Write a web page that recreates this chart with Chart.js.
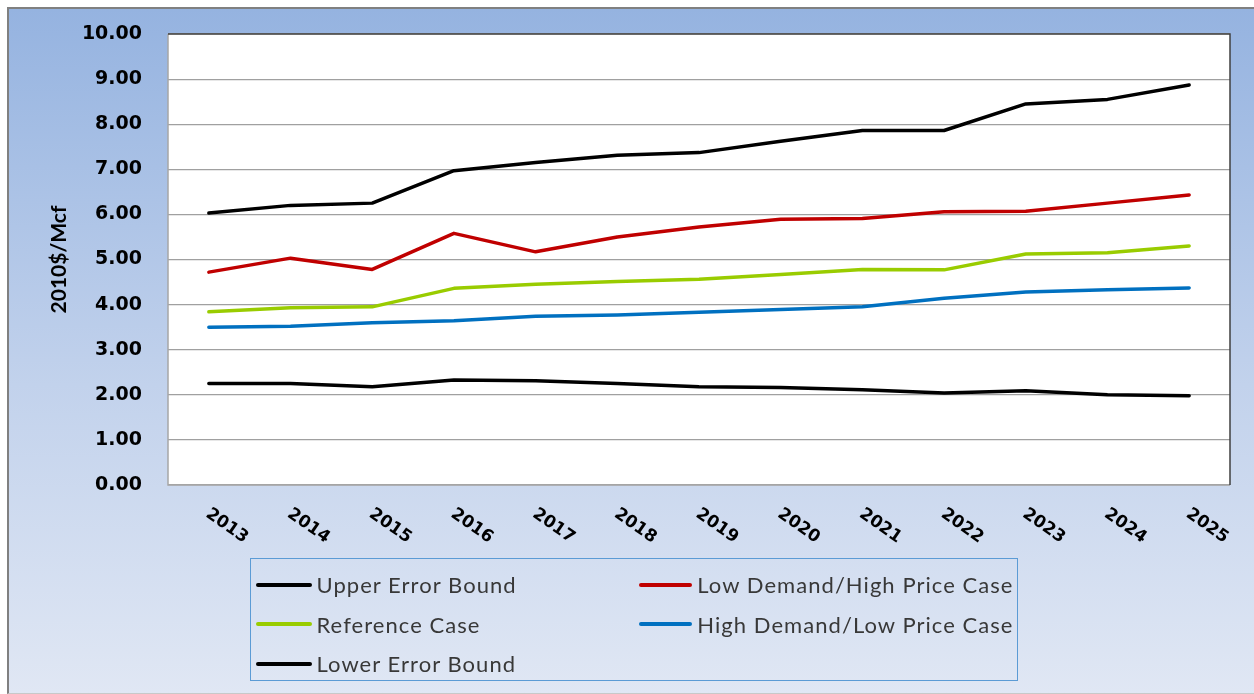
<!DOCTYPE html>
<html>
<head>
<meta charset="utf-8">
<script src="https://cdn.jsdelivr.net/npm/chart.js@4.4.1/dist/chart.umd.min.js"></script>
<style>
  html, body { margin: 0; padding: 0; background: #fff; overflow: hidden; }
  #frame {
    position: absolute; left: 7px; top: 7px; width: 1260px; height: 684px;
    border-left: 2px solid #808080; border-top: 2px solid #808080; border-bottom: 1px solid #c8c8c8;
    background: linear-gradient(to bottom, #95b3e0 0%, #c2d2ec 55%, #e0e7f4 100%);
  }
  #wrap { position: absolute; left: 0; top: 0; width: 1254px; height: 694px; }
  #legend {
    position: absolute; left: 250px; top: 558px; width: 768px; height: 123px;
    box-sizing: border-box; border: 1.5px solid #5b9bd5;
    padding: 6px 0 0 4.5px;
    display: grid; grid-template-columns: 383px 375px; grid-auto-rows: 39.5px;
    font-family: Lato, sans-serif; font-size: 22px; letter-spacing: 1.05px; color: #383838;
  }
  .item { display: flex; align-items: center; white-space: nowrap; }
  .swatch { width: 56px; height: 4px; border-radius: 2px; margin-right: 5px; }
</style>
</head>
<body>
<div id="frame"></div>
<div id="wrap"><canvas id="graph"></canvas></div>
<div id="legend"></div>
<script>
const years = ["2013", "2014", "2015", "2016", "2017", "2018", "2019", "2020", "2021", "2022", "2023", "2024", "2025"];

const upperBound = [6.03, 6.20, 6.25, 6.97, 7.15, 7.31, 7.37, 7.62, 7.86, 7.86, 8.45, 8.55, 8.87];
const lowDemand = [4.72, 5.03, 4.78, 5.58, 5.17, 5.50, 5.72, 5.89, 5.91, 6.06, 6.07, 6.25, 6.43];
const referenceCase = [3.84, 3.93, 3.95, 4.36, 4.45, 4.51, 4.56, 4.67, 4.78, 4.77, 5.12, 5.15, 5.30];
const highDemand = [3.50, 3.52, 3.60, 3.64, 3.74, 3.77, 3.83, 3.89, 3.95, 4.14, 4.28, 4.33, 4.37];
const lowerBound = [2.25, 2.25, 2.18, 2.33, 2.31, 2.25, 2.18, 2.16, 2.11, 2.04, 2.09, 2.00, 1.98];

const seriesNames = ["Upper Error Bound", "Low Demand/High Price Case", "Reference Case", "High Demand/Low Price Case", "Lower Error Bound"];
const seriesColors = ["#000000", "#c00000", "#99cc00", "#0070c0", "#000000"];
const seriesData = [upperBound, lowDemand, referenceCase, highDemand, lowerBound];

const plotArea = {
  id: "plotArea",
  beforeDraw(chart) {
    const { ctx, chartArea: a } = chart;
    ctx.save();
    ctx.fillStyle = "#ffffff";
    ctx.fillRect(a.left, a.top, a.right - a.left, a.bottom - a.top);
    ctx.restore();
  },
  afterDraw(chart) {
    const { ctx, chartArea: a } = chart;
    ctx.save();
    ctx.lineWidth = 1.5;
    ctx.strokeStyle = "#a6a6a6";
    ctx.beginPath();
    ctx.moveTo(a.left, a.top);
    ctx.lineTo(a.left, a.bottom);
    ctx.lineTo(a.right, a.bottom);
    ctx.stroke();
    ctx.strokeStyle = "#404040";
    ctx.beginPath();
    ctx.moveTo(a.left, a.top);
    ctx.lineTo(a.right, a.top);
    ctx.lineTo(a.right, a.bottom);
    ctx.stroke();

    // slanted year labels
    const x = chart.scales.x;
    ctx.font = "bold 17px 'DejaVu Sans'";
    ctx.fillStyle = "#000";
    ctx.textAlign = "center";
    ctx.textBaseline = "middle";
    years.forEach((yr, i) => {
      const px = x.getPixelForValue(i);
      ctx.save();
      ctx.translate(px + 18, x.top + 41);
      ctx.rotate(35 * Math.PI / 180);
      ctx.fillText(yr, 0, 0);
      ctx.restore();
    });
    ctx.restore();
  }
};

const graph = document.getElementById("graph").getContext("2d");
const chart = new Chart(graph, {
  type: "line",
  data: {
    labels: years,
    datasets: seriesData.map((d, i) => ({
      label: seriesNames[i],
      data: d,
      borderColor: seriesColors[i],
      backgroundColor: seriesColors[i],
      borderWidth: 3.5,
      pointRadius: 0,
      tension: 0,
      borderCapStyle: "round",
      borderJoinStyle: "round",
      fill: false
    }))
  },
  options: {
    responsive: true,
    maintainAspectRatio: false,
    animation: false,
    layout: { padding: { top: 34, right: 24, left: 0, bottom: 0 } },
    plugins: {
      legend: { display: false },
      tooltip: { enabled: false }
    },
    scales: {
      x: {
        offset: true,
        grid: { display: false },
        border: { display: false },
        ticks: { display: false },
        afterFit: s => { s.height = 209; }
      },
      y: {
        min: 0,
        max: 10,
        ticks: {
          stepSize: 1,
          padding: 0,
          color: "#000",
          font: { family: "'DejaVu Sans'", size: 19, weight: "bold" },
          callback: v => v.toFixed(2)
        },
        grid: { color: "#a0a0a0", lineWidth: 1.2, drawTicks: true, tickLength: 26, tickColor: "rgba(0,0,0,0)" },
        border: { display: false },
        title: {
          display: true,
          text: "2010$/Mcf",
          color: "#000",
          font: { family: "Lato", size: 21, weight: "bold" },
          padding: { top: 47, bottom: 0 }
        },
        afterFit: s => { s.width = 168; }
      }
    }
  },
  plugins: [plotArea]
});

const legend = document.getElementById("legend");
chart.data.datasets.forEach(ds => {
  const item = document.createElement("div");
  item.className = "item";
  const sw = document.createElement("span");
  sw.className = "swatch";
  sw.style.background = ds.borderColor;
  const txt = document.createElement("span");
  txt.textContent = ds.label;
  item.appendChild(sw);
  item.appendChild(txt);
  legend.appendChild(item);
});
</script>
</body>
</html>
